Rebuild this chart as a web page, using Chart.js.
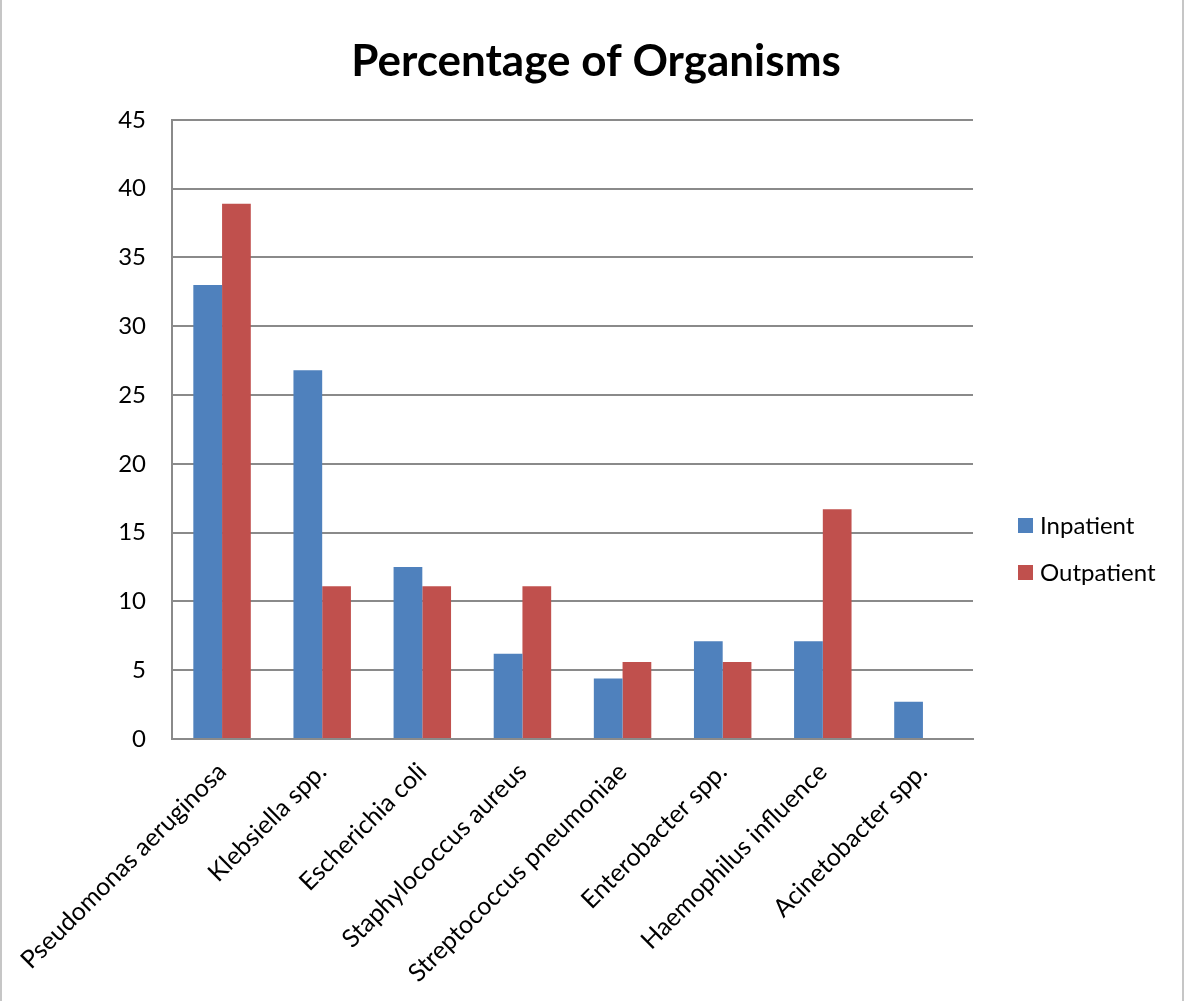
<!DOCTYPE html>
<html>
<head>
<meta charset="utf-8">
<title>Percentage of Organisms</title>
<script src="https://cdn.jsdelivr.net/npm/chart.js@4.4.1/dist/chart.umd.min.js"></script>
<style>
    html, body { margin: 0; padding: 0; background: #fff; }
    #wrap {
        position: relative;
        width: 1184px;
        height: 1001px;
        box-sizing: border-box;
        border-left: 2px solid #c6c6c6;
        border-right: 2px solid #c6c6c6;
        margin-left: 0;
    }
    #wrap canvas { position: absolute; left: -2px; top: 0; }
</style>
</head>
<body>
<div id="wrap"><canvas id="organism-chart" width="1184" height="1001"></canvas></div>
<script>
// Data
const organisms = [
    'Pseudomonas aeruginosa',
    'Klebsiella spp.',
    'Escherichia coli',
    'Staphylococcus aureus',
    'Streptococcus pneumoniae',
    'Enterobacter spp.',
    'Haemophilus influence',
    'Acinetobacter spp.'
];
const inpatient = [33.0, 26.8, 12.5, 6.2, 4.4, 7.1, 7.1, 2.7];
const outpatient = [38.9, 11.1, 11.1, 11.1, 5.6, 5.6, 16.7, 0];
const seriesNames = ['Inpatient', 'Outpatient'];
const seriesColors = ['#4F81BD', '#C0504D'];

Chart.defaults.font.family = 'Lato, "Open Sans", sans-serif';
Chart.defaults.color = '#000';

// Legend drawn on the right, the way the original sits beside the plot
const sideLegend = {
    id: 'sideLegend',
    afterDraw(chart) {
        const ctx = chart.ctx;
        const rows = [525, 572];
        ctx.save();
        ctx.font = '24px Lato, "Open Sans", sans-serif';
        ctx.textBaseline = 'middle';
        chart.data.datasets.forEach((ds, i) => {
            ctx.fillStyle = ds.backgroundColor;
            ctx.fillRect(1018, rows[i] - 7, 15, 15);
            ctx.fillStyle = '#000';
            ctx.fillText(ds.label, 1040, rows[i] + 1);
        });
        ctx.restore();
    }
};

const gridGray = '#8a8a8a';

new Chart(document.getElementById('organism-chart').getContext('2d'), {
    type: 'bar',
    data: {
        labels: organisms,
        datasets: [
            { label: seriesNames[0], data: inpatient, backgroundColor: seriesColors[0] },
            { label: seriesNames[1], data: outpatient, backgroundColor: seriesColors[1] }
        ]
    },
    options: {
        responsive: false,
        animation: false,
        categoryPercentage: 0.574,
        barPercentage: 1.0,
        layout: { padding: { left: 8, right: 0, top: 0, bottom: 0 } },
        plugins: {
            legend: { display: false },
            tooltip: { enabled: false },
            title: {
                display: true,
                text: 'Percentage of Organisms',
                font: { size: 44, weight: 'bold' },
                padding: { top: 35, bottom: 32 }
            }
        },
        scales: {
            x: {
                grid: { display: false },
                border: { display: true, color: gridGray, width: 2 },
                ticks: {
                    font: { size: 25 },
                    minRotation: 45,
                    maxRotation: 45,
                    padding: 10
                },
                afterFit(scale) { scale.height = 262; }
            },
            y: {
                min: 0,
                max: 45,
                grid: { color: gridGray, lineWidth: 2, drawTicks: false },
                border: { display: true, color: gridGray, width: 2 },
                ticks: {
                    stepSize: 5,
                    font: { size: 24 },
                    padding: 26
                },
                afterFit(scale) { scale.width = 164; }
            },
            // empty column on the right that leaves room for the legend
            side: {
                position: 'right',
                grid: { display: false, drawTicks: false },
                border: { display: false },
                ticks: { display: false },
                afterFit(scale) { scale.width = 211; }
            }
        }
    },
    plugins: [sideLegend]
});
</script>
</body>
</html>
